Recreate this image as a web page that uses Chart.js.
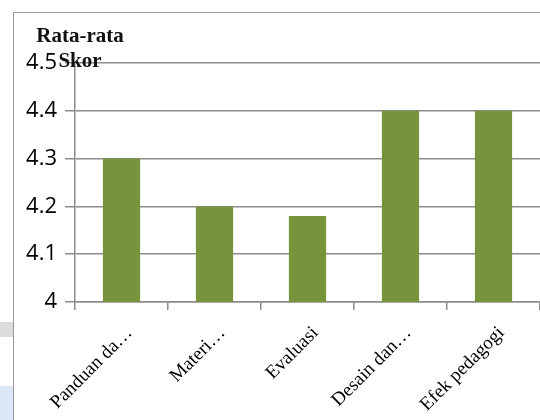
<!DOCTYPE html>
<html>
<head>
<meta charset="utf-8">
<script src="https://cdn.jsdelivr.net/npm/chart.js@4.4.1/dist/chart.umd.min.js"></script>
<style>
  html, body { margin: 0; padding: 0; background: #fff; }
  #wrap { position: relative; width: 540px; height: 420px; overflow: hidden; }
  #frame {
    position: absolute; left: 13px; top: 12px; width: 600px; height: 500px;
    border-left: 1.5px solid #999; border-top: 1.5px solid #999;
  }
  .smudge { position: absolute; left: 0; width: 13px; }
  #s1 { top: 322px; height: 15px; background: #dcdcdc; }
  #s2 { top: 386px; height: 34px; background: #dce8f8; }
  canvas { position: absolute; left: 0; top: 0; }
</style>
</head>
<body>
<div id="wrap">
  <div id="frame"></div>
  <div class="smudge" id="s1"></div>
  <div class="smudge" id="s2"></div>
  <canvas id="chart" width="540" height="420"></canvas>
</div>
<script>
// Average score per assessed aspect
const categories = ['Panduan da…', 'Materi…', 'Evaluasi', 'Desain dan…', 'Efek pedagogi'];
const scores = [4.3, 4.2, 4.18, 4.4, 4.4];
const yTickValues = [4, 4.1, 4.2, 4.3, 4.4, 4.5];
const titleLines = ['Rata-rata', 'Skor'];

const GRID = '#8c8c8c';

// Axis title drawn above the value axis, overlapping the top gridline
const axisTitle = {
  id: 'axisTitle',
  afterDraw(chart) {
    const ctx = chart.ctx;
    ctx.save();
    ctx.font = 'bold 21px "Liberation Serif", "Times New Roman", serif';
    ctx.fillStyle = '#111';
    ctx.textAlign = 'center';
    ctx.textBaseline = 'alphabetic';
    ctx.fillText(titleLines[0], 80, 42);
    ctx.fillText(titleLines[1], 80, 67);
    ctx.restore();
  }
};

new Chart(document.getElementById('chart'), {
  type: 'bar',
  data: {
    labels: categories,
    datasets: [{
      data: scores,
      backgroundColor: '#77933c',
      borderWidth: 0,
      barPercentage: 0.4,
      categoryPercentage: 1.0
    }]
  },
  options: {
    responsive: false,
    animation: false,
    devicePixelRatio: 1,
    layout: { padding: { top: 63, left: 0, right: 0, bottom: 0 } },
    plugins: {
      legend: { display: false },
      title: { display: false },
      tooltip: { enabled: false }
    },
    scales: {
      x: {
        afterFit(scale) { scale.height = 118; },
        grid: {
          display: true,
          drawOnChartArea: false,
          drawTicks: true,
          tickLength: 8,
          color: GRID,
          lineWidth: 1.5
        },
        border: { display: true, color: GRID, width: 1.5 },
        ticks: {
          minRotation: 45,
          maxRotation: 45,
          autoSkip: false,
          padding: 12,
          labelOffset: 8,
          color: '#000',
          font: { family: '"Liberation Serif", "Times New Roman", serif', size: 19 }
        }
      },
      y: {
        min: 4,
        max: 4.5,
        afterFit(scale) { scale.width = 75; },
        afterBuildTicks(scale) {
          scale.ticks = yTickValues.map(v => ({ value: v }));
        },
        grid: {
          color: GRID,
          lineWidth: 1.5,
          drawTicks: true,
          tickLength: 10
        },
        border: { display: true, color: GRID, width: 1.5 },
        ticks: {
          padding: 8,
          color: '#000',
          font: { family: '"Open Sans", "Liberation Sans", sans-serif', size: 22 },
          callback: v => String(Math.round(v * 10) / 10)
        }
      }
    }
  },
  plugins: [axisTitle]
});
</script>
</body>
</html>
